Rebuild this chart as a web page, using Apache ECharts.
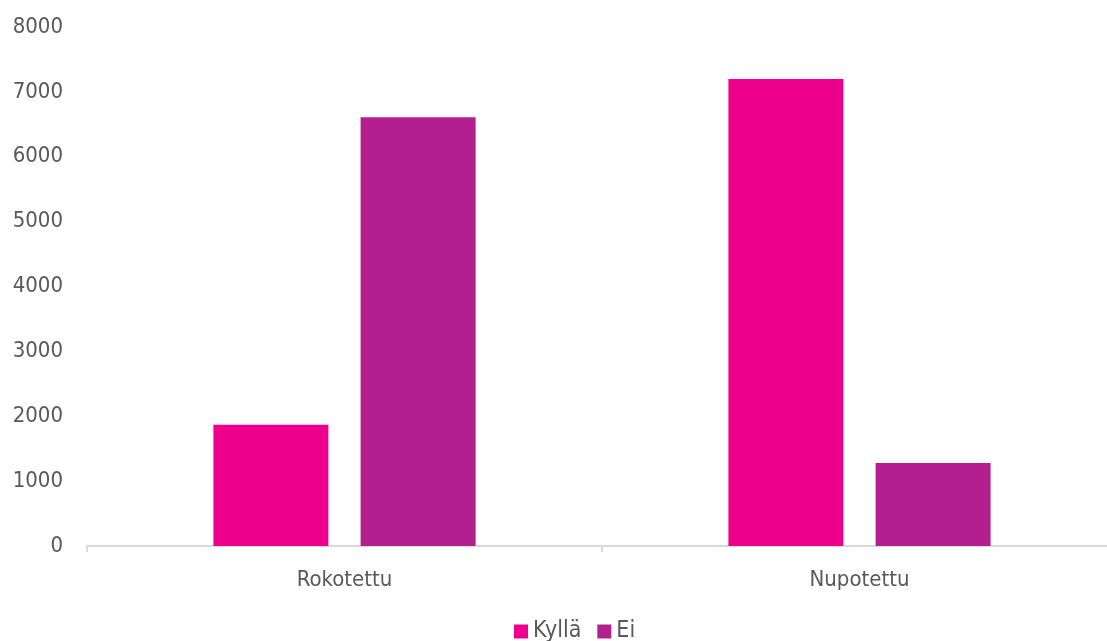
<!DOCTYPE html>
<html>
<head>
<meta charset="utf-8">
<script src="https://cdn.jsdelivr.net/npm/echarts@6/dist/echarts.min.js"></script>
<style>html,body{margin:0;padding:0;background:#fff;}#c{width:1107px;height:641px;}</style>
</head>
<body>
<div id="c"></div>
<script>
const categories = ['Rokotettu', 'Nupotettu'];
const kylla = [1870, 7200];
const ei = [6610, 1280];
const seriesNames = ['Kyllä', 'Ei'];
const yTicks = { min: 0, max: 8000, interval: 1000 };

const font = "'DejaVu Sans Condensed', 'DejaVu Sans', sans-serif";
const chart = echarts.init(document.getElementById('c'));
chart.setOption({
  animation: false,
  grid: { left: 87, right: -10, top: 27, bottom: 95, containLabel: false, outerBoundsMode: 'none' },
  legend: {
    bottom: -7, left: 509,
    itemWidth: 14, itemHeight: 14, itemGap: 16,
    icon: 'rect',
    textStyle: { color: '#595959', fontSize: 23, fontFamily: font },
    data: seriesNames
  },
  xAxis: {
    type: 'category', data: categories,
    axisLine: { lineStyle: { color: '#d9d9d9', width: 2 } },
    axisTick: { show: true, length: 6, lineStyle: { color: '#d9d9d9', width: 2 } },
    axisLabel: { color: '#595959', fontSize: 22, fontFamily: font, margin: 23 }
  },
  yAxis: {
    type: 'value', min: yTicks.min, max: yTicks.max, interval: yTicks.interval,
    axisLine: { show: false }, axisTick: { show: false }, splitLine: { show: false },
    axisLabel: { color: '#595959', fontSize: 22, fontFamily: font, margin: 24,
      formatter: function (v) { return String(v); } }
  },
  series: [
    { name: seriesNames[0], type: 'bar', data: kylla, barWidth: 115, barGap: '28%',
      itemStyle: { color: '#EC008C' } },
    { name: seriesNames[1], type: 'bar', data: ei, barWidth: 115, barGap: '28%',
      itemStyle: { color: '#B41F8F' } }
  ]
});
</script>
</body>
</html>
